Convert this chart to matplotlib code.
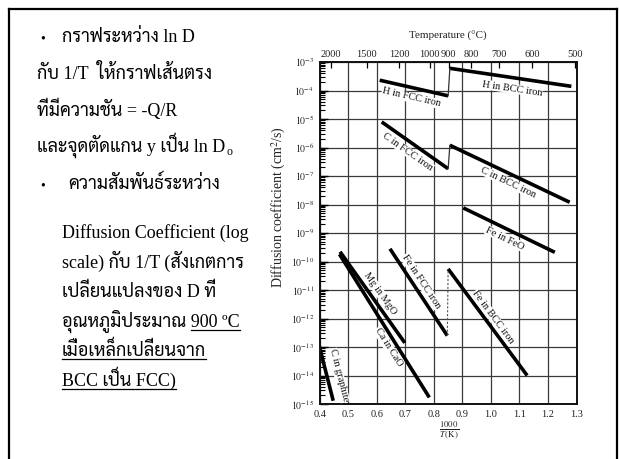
import math
import matplotlib
matplotlib.use("Agg")
import matplotlib.pyplot as plt
from matplotlib import font_manager
from matplotlib.ft2font import FT2Font
from matplotlib.lines import Line2D
from matplotlib.ticker import LogLocator, FixedLocator, NullFormatter

# ---------------- data (1000/T in 1/K, D in cm^2/s) ----------------
h_fcc_x = [0.61, 0.85]
h_fcc_D = [2.3e-4, 6.5e-5]
h_bcc_x = [0.856, 1.282]
h_bcc_D = [6.0e-4, 1.4e-4]
c_fcc_x = [0.617, 0.85]
c_fcc_D = [7.9e-6, 1.8e-7]
c_bcc_x = [0.856, 1.276]
c_bcc_D = [1.2e-6, 1.2e-8]
fe_feo_x = [0.903, 1.224]
fe_feo_D = [7.6e-9, 2.1e-10]
fe_fcc_x = [0.646, 0.847]
fe_fcc_D = [2.8e-10, 2.5e-13]
fe_bcc_x = [0.85, 1.127]
fe_bcc_D = [5.5e-11, 1.0e-14]
mg_mgo_x = [0.471, 0.698]
mg_mgo_D = [2.2e-10, 1.4e-13]
ca_cao_x = [0.469, 0.784]
ca_cao_D = [1.8e-10, 1.7e-15]
c_gr_x = [0.398, 0.447]
c_gr_D = [1.1e-13, 1.3e-15]

series_names = ["H in FCC iron", "H in BCC iron", "C in FCC iron", "C in BCC iron",
                "Fe in FeO", "Fe in FCC iron", "Fe in BCC iron", "Mg in MgO",
                "Ca in CaO", "C in graphite"]

x_ticks = [0.4, 0.5, 0.6, 0.7, 0.8, 0.9, 1.0, 1.1, 1.2, 1.3]
x_tick_labels = ["0.4", "0.5", "0.6", "0.7", "0.8", "0.9", "1.0", "1.1", "1.2", "1.3"]
y_exponents = [-3, -4, -5, -6, -7, -8, -9, -10, -11, -12, -13, -14, -15]
temp_ticks_C = [2000, 1500, 1200, 1000, 900, 800, 700, 600, 500]

# ---------------- fonts ----------------
def has_thai(path):
    try:
        cm = FT2Font(path).get_charmap()
        return 0x0E01 in cm and 0x0E31 in cm
    except Exception:
        return False

thai_fonts = []
for fe in font_manager.fontManager.ttflist:
    if fe.name not in thai_fonts and has_thai(fe.fname):
        thai_fonts.append(fe.name)

thai_choice = None
for pref in ["Norasi", "TH Sarabun New", "Sarabun", "FreeSerif", "Garuda", "Loma"]:
    if pref in thai_fonts:
        thai_choice = pref
        break
if thai_choice is None and thai_fonts:
    thai_choice = thai_fonts[0]

plt.rcParams["mathtext.fontset"] = "stix"
serif = "Liberation Serif"
slide_family = [serif] + ([thai_choice] if thai_choice else []) + ["DejaVu Sans"]

W, H = 619, 459
fig = plt.figure(figsize=(W / 100, H / 100), dpi=100)
fig.patch.set_facecolor("white")

def fx(px):
    return px / W

def fy(py):
    return 1 - py / H

# slide border (top, left, right)
for xs, ys in [((9, 617), (9, 9)), ((9, 9), (9, 470)), ((617, 617), (9, 470))]:
    fig.add_artist(Line2D([fx(xs[0]), fx(xs[1])], [fy(ys[0]), fy(ys[1])],
                          transform=fig.transFigure, color="black", lw=1.6))

# ---------------- chart ----------------
ax = fig.add_axes([fx(319.8), fy(404), fx(576.5) - fx(319.8), fy(62) - fy(404)])
ax.set_yscale("log")
ax.set_xlim(0.4, 1.3)
ax.set_ylim(1e-15, 1e-3)

for s in ax.spines.values():
    s.set_linewidth(1.4)
    s.set_color("#111111")

ax.xaxis.set_major_locator(FixedLocator(x_ticks))
ax.set_xticklabels(x_tick_labels, fontfamily=serif, fontsize=7.5, color="#222222")
ax.set_yticks([10.0 ** e for e in y_exponents])
ax.set_yticklabels([r"$10^{%d}$" % e for e in y_exponents], fontsize=7, color="#222222")
ax.yaxis.set_minor_locator(LogLocator(base=10, subs=range(2, 10), numticks=100))
ax.yaxis.set_minor_formatter(NullFormatter())
ax.tick_params(axis="x", which="both", length=0, pad=4)
ax.tick_params(axis="y", which="major", direction="in", length=6, width=1.0, pad=4)
ax.tick_params(axis="y", which="minor", direction="in", length=3.5, width=0.8)
ax.grid(True, which="major", color="#3a3a3a", lw=0.9)
ax.set_axisbelow(True)

# top temperature axis
ax2 = ax.twiny()
ax2.set_xlim(ax.get_xlim())
ax2.set_xticks([1000.0 / (t + 273.15) for t in temp_ticks_C])
ax2.set_xticklabels([str(t) for t in temp_ticks_C], fontfamily=serif, fontsize=7.5,
                    color="#222222")
ax2.tick_params(axis="x", direction="in", length=4, width=0.9, pad=2)
for s in ax2.spines.values():
    s.set_visible(False)
ax2.set_xlabel("Temperature (°C)", fontfamily=serif, fontsize=8, labelpad=8, color="#222222")

ax.set_ylabel("Diffusion coefficient (cm$^2$/s)", fontfamily=serif, fontsize=10,
              color="#222222")
ax.yaxis.set_label_coords(-0.125, 0.575)
fig.text(fx(449), fy(430), r"$\frac{1000}{T\,\mathrm{(K)}}$", fontsize=9,
         ha="center", va="center", color="#222222")

series = [(h_fcc_x, h_fcc_D), (h_bcc_x, h_bcc_D), (c_fcc_x, c_fcc_D), (c_bcc_x, c_bcc_D),
          (fe_feo_x, fe_feo_D), (fe_fcc_x, fe_fcc_D), (fe_bcc_x, fe_bcc_D),
          (mg_mgo_x, mg_mgo_D), (ca_cao_x, ca_cao_D), (c_gr_x, c_gr_D)]
for xs, ds in series:
    ax.plot(xs, ds, color="black", lw=2.6, solid_capstyle="butt")

# FCC -> BCC transition connectors
ax.plot([h_fcc_x[-1], h_bcc_x[0]], [h_fcc_D[-1], h_bcc_D[0]], color="#333333", lw=0.9)
ax.plot([c_fcc_x[-1], c_bcc_x[0]], [c_fcc_D[-1], c_bcc_D[0]], color="#333333", lw=0.9)
ax.plot([fe_fcc_x[-1], fe_bcc_x[0]], [fe_fcc_D[-1], fe_bcc_D[0]], color="#555555",
        lw=0.8, ls=(0, (2, 1.5)))

# labels along lines
label_pos = [(0.72, 10 ** -4.25), (1.074, 10 ** -3.93), (0.709, 10 ** -6.16),
             (1.06, 10 ** -7.22), (1.049, 10 ** -9.19), (0.755, 10 ** -10.7),
             (1.008, 10 ** -11.96), (0.612, 10 ** -11.12), (0.64, 10 ** -13.0),
             (0.467, 10 ** -14.0)]
for name, (xs, ds), (lx, ly) in zip(series_names, series, label_pos):
    p0 = ax.transData.transform((xs[0], ds[0]))
    p1 = ax.transData.transform((xs[1], ds[1]))
    ang = math.degrees(math.atan2(p1[1] - p0[1], p1[0] - p0[0]))
    ax.text(lx, ly, name, rotation=ang, rotation_mode="anchor", ha="center", va="center",
            fontfamily=serif, fontsize=7.5, color="#111111",
            bbox=dict(facecolor="white", edgecolor="none", pad=0.3))

# ---------------- slide text ----------------
FS = 13
txt_kw = dict(fontsize=FS, family=slide_family, color="black", va="baseline")
lines = [
    (62, 42, "กราฟระหว่าง ln D"),
    (37, 79, "กับ 1/T  ให้กราฟเส้นตรง"),
    (37, 116, "ที่มีความชัน = -Q/R"),
    (37, 152, "และจุดตัดแกน y เป็น ln D"),
    (68, 189, "ความสัมพันธ์ระหว่าง"),
    (62, 238, "Diffusion Coefficient (log"),
    (62, 268, "scale) กับ 1/T (สังเกตการ"),
    (62, 297, "เปลี่ยนแปลงของ D ที่"),
    (62, 327, "อุณหภูมิประมาณ 900 ºC"),
    (62, 356, "เมื่อเหล็กเปลี่ยนจาก"),
    (62, 386, "BCC เป็น FCC)"),
]
objs = []
for x, y, s in lines:
    objs.append(fig.text(fx(x), fy(y), s, **txt_kw))
for by in (42, 189):
    fig.text(fx(40), fy(by), "•", fontsize=10, family=slide_family, va="baseline")

fig.canvas.draw()
r = fig.canvas.get_renderer()
# subscript o after ln D
bb = objs[3].get_window_extent(r)
fig.text(bb.x1 / W + 1 / W, fy(155), "o", fontsize=8.5, family=slide_family, va="baseline")

def underline(x0px, x1px, ybase):
    fig.add_artist(Line2D([x0px / W, x1px / W], [fy(ybase + 3), fy(ybase + 3)],
                          transform=fig.transFigure, color="black", lw=0.9))

# underline "900 ºC"
tmp = fig.text(0, 0, "อุณหภูมิประมาณ", **txt_kw)
tsp = fig.text(0, 0, "x x", **txt_kw)
tns = fig.text(0, 0, "xx", **txt_kw)
pw = tmp.get_window_extent(r).width
sw = tsp.get_window_extent(r).width - tns.get_window_extent(r).width
for t in (tmp, tsp, tns):
    t.remove()
bb9 = objs[8].get_window_extent(r)
underline(bb9.x0 + pw + sw, bb9.x1, 327)
for k, yb in ((9, 356), (10, 386)):
    b = objs[k].get_window_extent(r)
    underline(b.x0, b.x1, yb)

fig.savefig("out.png", dpi=100)
